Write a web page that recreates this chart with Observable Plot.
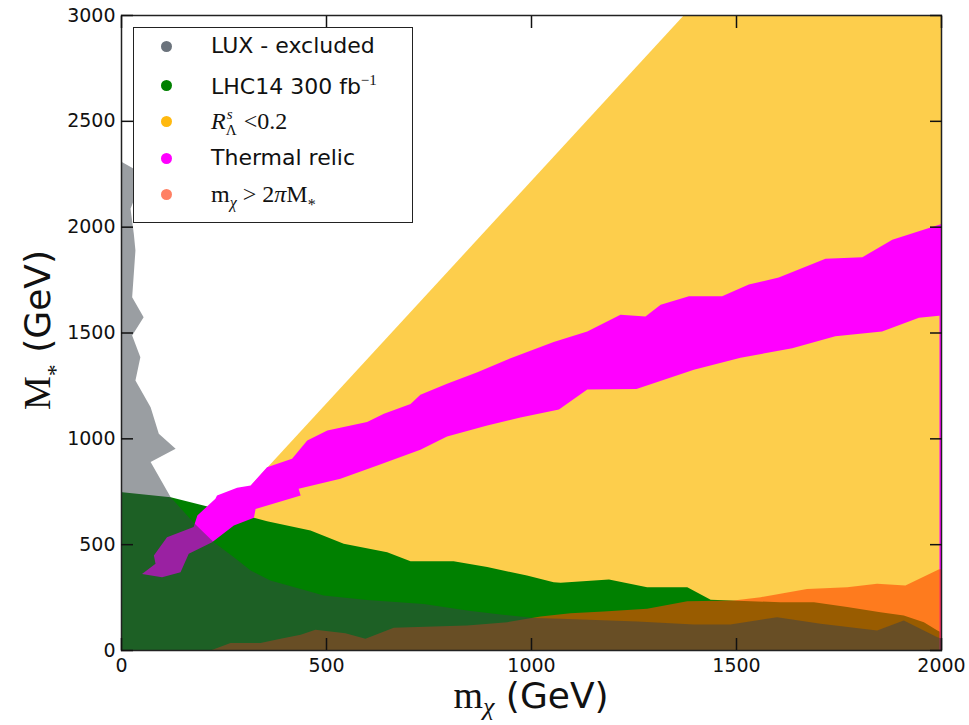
<!DOCTYPE html>
<html><head><meta charset="utf-8">
<script src="https://cdn.jsdelivr.net/npm/d3@7"></script>
<script src="https://cdn.jsdelivr.net/npm/@observablehq/plot@0.6"></script>
<style>
body{margin:0;background:#fff;}
#wrap{position:relative;width:969px;height:725px;}
#legend{position:absolute;left:133px;top:27px;width:280px;height:196px;box-sizing:border-box;border:1.5px solid #222;background:#fff;font-family:"DejaVu Sans";color:#111;}
.row{position:absolute;left:0;height:0;width:100%;}
.dot{position:absolute;left:27px;width:11px;height:11px;border-radius:50%;top:-5.5px;}
.lab{position:absolute;left:77px;top:0;transform:translateY(-52%);white-space:nowrap;font-size:22px;line-height:1.2;}
.m{font-family:"Liberation Serif","DejaVu Serif",serif;}
</style></head>
<body><div id="wrap"></div>
<script>
// ---- data (m_chi in GeV, M_* in GeV) ----
const mChiTicks = [0, 500, 1000, 1500, 2000];
const mStarTicks = [0, 500, 1000, 1500, 2000, 2500, 3000];

const rLambdaRegion = [[0,116],[1371,3000],[2000,3000],[2000,0],[0,0]];

const lhc14Region = [[0,0],[0,750],[2,748],[120,724],[217,677],[323,627],[355,611],[461,567],[542,504],[648,464],[705,422],[810,422],[892,394],[989,354],[1054,323],[1071,320],[1189,335],[1282,299],[1380,299],[1437,240],[1607,228],[1689,228],[1770,205],[1851,181],[1908,165],[1957,134],[1990,94],[2000,85],[2000,0]];

const thermalUpper = [[50,362],[83,410],[79,449],[111,535],[176,583],[185,638],[229,717],[233,732],[282,769],[315,780],[355,866],[416,906],[453,992],[502,1039],[599,1079],[640,1118],[705,1165],[729,1208],[794,1260],[868,1315],[949,1381],[1054,1457],[1136,1507],[1217,1586],[1278,1578],[1315,1633],[1384,1674],[1465,1674],[1530,1729],[1603,1762],[1717,1851],[1807,1858],[1880,1940],[2000,2015]];
const thermalLower = [[2000,1583],[1945,1572],[1855,1507],[1741,1485],[1636,1428],[1510,1383],[1396,1326],[1256,1236],[1136,1233],[1067,1139],[973,1101],[892,1063],[794,1011],[729,948],[624,874],[534,811],[432,764],[437,732],[327,669],[323,627],[274,591],[221,512],[164,457],[144,370],[99,346]];

const heavyRegion = [[217,0],[266,35],[339,35],[388,55],[437,74],[473,98],[546,82],[595,55],[664,107],[762,113],[843,118],[941,134],[1022,161],[1095,176],[1176,184],[1282,197],[1380,233],[1493,236],[1559,252],[1607,268],[1672,291],[1770,299],[1843,315],[1912,307],[1993,383],[2000,385],[2000,0]];

const luxRegion = [[0,0],[0,2310],[2,2307],[30,2276],[75,2205],[30,2126],[22,2087],[30,1969],[34,1890],[26,1669],[54,1575],[26,1488],[46,1386],[34,1276],[71,1149],[91,1024],[132,953],[71,890],[120,724],[175,606],[225,512],[274,441],[315,378],[363,331],[437,291],[493,260],[599,239],[737,220],[843,189],[924,170],[1006,154],[1071,150],[1258,137],[1396,123],[1485,123],[1599,157],[1705,126],[1843,94],[1908,142],[1990,63],[2000,55],[2000,0]];

const legendLabels = [
  'LUX - excluded',
  'LHC14 300 fb<span class="m" style="font-size:15px;vertical-align:9px">\u22121</span>',
  '<span class="m" style="font-size:24px"><i>R</i><span style="display:inline-block;position:relative;width:12px;height:10px;font-size:15px"><span style="position:absolute;left:1px;top:-14px"><i>s</i></span><span style="position:absolute;left:0;top:2px">\u039B</span></span> &lt;0.2</span>',
  'Thermal relic',
  '<span class="m" style="font-size:24px">m<span style="font-size:16px;position:relative;top:6px"><i>\u03C7</i></span> &gt; 2<i>\u03C0</i>M<span style="font-size:16px;position:relative;top:8px">*</span></span>'
];
const legendColors = ["#6b737c", "#008000", "#ffb90f", "#ff00ff", "#ff8064"];
const legendRows = [20, 59, 95, 132, 168];

const thermalRegion = thermalUpper.concat(thermalLower);
const edge = [thermalLower[0]];

const poly = (data, fill, opacity = 1) =>
  Plot.line(data, {x: d => d[0], y: d => d[1], fill, fillOpacity: opacity, stroke: "none", curve: "linear"});

const fmt = d => String(d);

const chart = Plot.plot({
  width: 969, height: 725,
  marginLeft: 121, marginRight: 28, marginTop: 15, marginBottom: 75,
  x: {domain: [0, 2000]},
  y: {domain: [0, 3000]},
  style: {fontFamily: "DejaVu Sans", fontSize: "19px", color: "#111", background: "white", overflow: "visible"},
  marks: [
    poly(rLambdaRegion, "#fdce4c"),
    poly(lhc14Region, "#008000"),
    poly(thermalRegion, "#ff00ff"),
    Plot.ruleX(edge, {x: d => d[0], y1: 0, y2: d => d[1], stroke: "#ff00ff", strokeWidth: 2, dx: -1}),
    poly(heavyRegion, "#ff4500", 0.6),
    poly(luxRegion, "rgb(57,65,73)", 0.51),
    Plot.frame({stroke: "#222", strokeWidth: 1.5}),
    Plot.axisX(mChiTicks, {anchor: "bottom", tickSize: 12, dy: -12, tickFormat: () => "", label: null, strokeWidth: 1.5}),
    Plot.axisX(mChiTicks, {anchor: "top", tickSize: 12, dy: 12, tickFormat: () => "", label: null, strokeWidth: 1.5}),
    Plot.axisY(mStarTicks, {anchor: "left", tickSize: 12, dx: 12, tickFormat: () => "", label: null, strokeWidth: 1.5}),
    Plot.axisY(mStarTicks, {anchor: "right", tickSize: 12, dx: -12, tickFormat: () => "", label: null, strokeWidth: 1.5}),
    Plot.axisX(mChiTicks, {anchor: "bottom", tickSize: 0, tickPadding: 8, tickFormat: fmt, label: null, fontSize: 19}),
    Plot.axisY(mStarTicks, {anchor: "left", tickSize: 0, tickPadding: 6, tickFormat: fmt, label: null, fontSize: 19})
  ]
});

const wrap = document.getElementById("wrap");
wrap.appendChild(chart);

const svg = d3.select(chart);
const yl = svg.append("text").attr("transform", "translate(50,330) rotate(-90)").attr("text-anchor", "middle").attr("fill", "#111");
yl.append("tspan").attr("font-family", "Liberation Serif").attr("font-size", 38).text("M");
yl.append("tspan").attr("font-family", "Liberation Serif").attr("font-size", 24).attr("dy", 13).text("*");
yl.append("tspan").attr("font-family", "DejaVu Sans").attr("font-size", 36).attr("dy", -13).text(" (GeV)");

const xl = svg.append("text").attr("x", 531).attr("y", 708).attr("text-anchor", "middle").attr("fill", "#111");
xl.append("tspan").attr("font-family", "Liberation Serif").attr("font-size", 38).text("m");
xl.append("tspan").attr("font-family", "Liberation Serif").attr("font-style", "italic").attr("font-size", 26).attr("dy", 7).text("\u03C7");
xl.append("tspan").attr("font-family", "DejaVu Sans").attr("font-size", 36).attr("dy", -7).text(" (GeV)");

// legend
const legend = document.createElement("div");
legend.id = "legend";
legendLabels.forEach((lab, i) => {
  const row = document.createElement("div");
  row.className = "row";
  row.style.top = (legendRows[i] - 1.5) + "px";
  row.innerHTML = `<div class="dot" style="background:${legendColors[i]}"></div><div class="lab">${lab}</div>`;
  legend.appendChild(row);
});
wrap.appendChild(legend);
</script>
</body></html>
